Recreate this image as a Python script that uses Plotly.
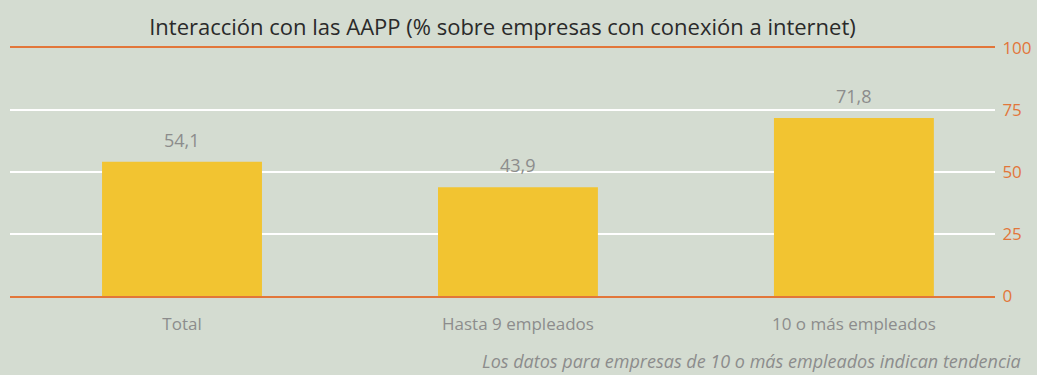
import plotly.graph_objects as go

categories = ["Total", "Hasta 9 empleados", "10 o más empleados"]
values = [54.1, 43.9, 71.8]
y_ticks = [0, 25, 50, 75, 100]

bg = "#D4DCD1"
orange = "#E2763A"
bar_color = "#F2C431"
gray = "#8C8C8C"
font_family = "Open Sans, Lato, sans-serif"

x_pos = list(range(len(categories)))

fig = go.Figure(
    go.Bar(
        x=x_pos,
        y=values,
        width=0.476,
        marker=dict(color=bar_color, line=dict(width=0)),
        hoverinfo="skip",
    )
)

# value labels above each bar, with a decimal comma
value_labels = [
    dict(
        x=xi,
        y=v,
        text=f"{v:.1f}".replace(".", ","),
        xref="x",
        yref="y",
        xanchor="center",
        yanchor="bottom",
        yshift=8,
        showarrow=False,
        font=dict(size=18, color=gray, family=font_family),
    )
    for xi, v in zip(x_pos, values)
]

fig.update_layout(
    width=1037,
    height=375,
    margin=dict(l=10, r=42, t=48, b=79, autoexpand=False),
    paper_bgcolor=bg,
    plot_bgcolor=bg,
    separators=",.",
    showlegend=False,
    font=dict(family=font_family),
    title=dict(
        text="Interacción con las AAPP (% sobre empresas con conexión a internet)",
        x=0.5,
        xref="paper",
        xanchor="center",
        y=1 - 27 / 375,
        yref="container",
        yanchor="middle",
        font=dict(size=22, color="#2A2A2A", family=font_family),
    ),
    xaxis=dict(
        range=[-0.512, 2.42],
        tickmode="array",
        tickvals=x_pos,
        ticktext=categories,
        tickfont=dict(size=17, color=gray),
        showgrid=False,
        zeroline=False,
        showline=True,
        linecolor=orange,
        linewidth=2,
        mirror=True,
        ticks="outside",
        ticklen=12,
        tickcolor="rgba(0,0,0,0)",
        automargin=False,
    ),
    yaxis=dict(
        range=[0, 100],
        side="right",
        tickmode="array",
        tickvals=y_ticks,
        tickfont=dict(size=17, color=orange),
        showgrid=True,
        gridcolor="#FFFFFF",
        gridwidth=2,
        zeroline=False,
        showline=False,
        ticks="outside",
        ticklen=3,
        tickcolor="rgba(0,0,0,0)",
        automargin=False,
    ),
    annotations=value_labels
    + [
        dict(
            text="<i>Los datos para empresas de 10 o más empleados indican tendencia</i>",
            xref="paper",
            yref="paper",
            x=(1023 - 10) / 985,
            y=(296 - 361) / 248,
            xanchor="right",
            yanchor="middle",
            showarrow=False,
            font=dict(size=18, color=gray, family=font_family),
        )
    ],
)

fig.write_html("out.html")
